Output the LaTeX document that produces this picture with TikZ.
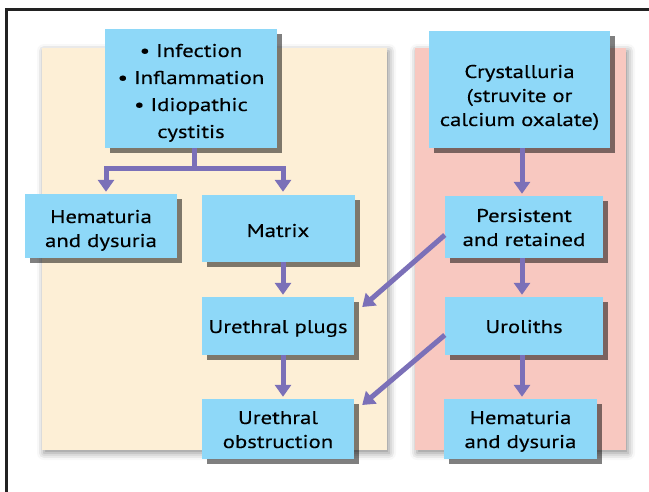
\documentclass[tikz,border=0pt]{standalone}
\usepackage{fontspec}
\setmainfont{PT Sans}[FakeStretch=1.23, FakeBold=0.2]
\usetikzlibrary{arrows.meta,calc,shadows,shadows.blur}

\definecolor{boxblue}{HTML}{8ED8F8}
\definecolor{creampanel}{HTML}{FDEFD6}
\definecolor{pinkpanel}{HTML}{F8C8C0}
\definecolor{flowpurple}{HTML}{7B70B8}
\definecolor{framegray}{HTML}{222222}

\begin{document}
\begin{tikzpicture}
	[
		x=1pt, y=-1pt,
		box/.style = {rectangle, align=center, fill=boxblue, inner sep=0pt,
			font=\fontsize{18.5}{24}\selectfont,
			drop shadow={shadow xshift=5pt, shadow yshift=-5pt, fill=black, opacity=0.5}},
		panel/.style = {blur shadow={shadow xshift=2pt, shadow yshift=-3pt, shadow blur radius=7pt, shadow opacity=45}},
		flow/.style = {draw=flowpurple, line width=5pt, -{Triangle[width=16pt,length=12pt]}},
	]

	\useasboundingbox (0,0) rectangle (649,492);

	% frame
	\draw[framegray, line width=3pt] (6,492) -- (6,10) -- (649,10);

	% panels
	\path[panel, fill=creampanel] (42,48) rectangle (387,450);
	\path[panel, fill=pinkpanel] (415,48) rectangle (626,450);

	% causes
	\node[box, minimum width=172pt, minimum height=119pt, text height=109pt, text depth=10pt,
		font=\fontsize{18.5}{27}\selectfont] (cause) 	at ( 191,  88.5 ) {• Infection\\• Inflammation\\• Idiopathic\\cystitis};
	\node[box, minimum width=181pt, minimum height=117pt, text height=95pt, text depth=22pt] (crystal) at ( 519.5, 89.5 ) {Crystalluria\\(struvite or\\calcium oxalate)};

	% second row
	\node[box, minimum width=152pt, minimum height=64pt, text height=53pt, text depth=11pt] (hemleft) 	at ( 101, 226 ) {Hematuria\\and dysuria};
	\node[box, minimum width=153pt, minimum height=67pt, text height=42pt, text depth=25pt] (matrix) 	at ( 278, 228.5 ) {Matrix};
	\node[box, minimum width=158pt, minimum height=62pt, text height=50pt, text depth=12pt] (persist) 	at ( 524, 227 ) {Persistent\\and retained};

	% third row
	\node[box, minimum width=152pt, minimum height=58pt, text height=36pt, text depth=22pt] (plugs) 	at ( 278, 326 ) {Urethral plugs};
	\node[box, minimum width=158pt, minimum height=58pt, text height=36pt, text depth=22pt] (uroliths) at ( 524, 326 ) {Uroliths};

	% fourth row
	\node[box, minimum width=152pt, minimum height=60pt, text height=49pt, text depth=11pt] (obstruct) at ( 278, 429 ) {Urethral\\obstruction};
	\node[box, minimum width=153pt, minimum height=60pt, text height=49pt, text depth=11pt] (hemright) at ( 520.5, 429 ) {Hematuria\\and dysuria};

	% fork under causes
	\coordinate (fork) at ($(cause.south)+(3,20)$);
	\draw[draw=flowpurple, line width=5pt] ([xshift=3pt]cause.south) -- (fork);
	\draw[flow] (fork) -| ($(hemleft.north)+(5,-2)$);
	\draw[flow] (fork) -| ($(matrix.north)+(5,-3)$);

	\foreach \from/\to in {matrix/plugs,plugs/obstruct}
	\draw[flow] ($(\from.south)+(5,0)$) -- ($(\to.north)+(5,-2)$);

	\foreach \from/\to in {crystal/persist,persist/uroliths,uroliths/hemright}
	\draw[flow] ($(\from.south -| persist.north)+(-2,0)$) -- ($(\to.north -| persist.north)+(-2,-2)$);

	% crystals into the urethra
	\draw[flow] ($(persist.west)+(0,8)$) -- ($(plugs.east)+(8,-19)$);
	\draw[flow] ($(uroliths.west)+(0,9)$) -- ($(obstruct.east)+(8,-24)$);

\end{tikzpicture}
\end{document}
